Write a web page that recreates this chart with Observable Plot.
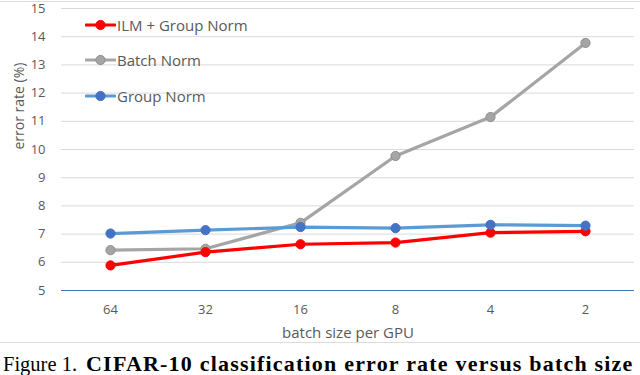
<!DOCTYPE html>
<html>
<head>
<meta charset="utf-8">
<script src="https://cdn.jsdelivr.net/npm/d3@7"></script>
<script src="https://cdn.jsdelivr.net/npm/@observablehq/plot@0.6"></script>
<style>
  html, body { margin: 0; padding: 0; background: #fff; overflow: hidden; width: 640px; height: 375px; }
  #wrap { position: relative; width: 640px; height: 375px; }
  #chart { position: absolute; left: 0; top: 0; }
  #frameTop { position: absolute; left: 0; top: 1px; width: 640px; height: 0; border-top: 1.5px solid #dcdcdc; }
  #frameBottom { position: absolute; left: 0; top: 342px; width: 640px; height: 0; border-top: 1.5px solid #dcdcdc; }
  #legend { position: absolute; left: 85px; top: 0; font-family: "Open Sans", sans-serif; font-size: 15px; color: #595959; }
  .item { position: absolute; left: 0; height: 20px; white-space: nowrap; display: flex; align-items: center; }
  .item span { margin-left: 1px; }
  #caption { position: absolute; left: 3px; top: 354px; white-space: nowrap; font-family: "Liberation Serif", "Times New Roman", serif; font-size: 20.5px; line-height: 20px; color: #000; }
  #caption b { font-size: 22px; line-height: 20px; letter-spacing: 1.2px; margin-left: 9px; }
</style>
</head>
<body>
<div id="wrap">
  <div id="frameTop"></div>
  <div id="chart"></div>
  <div id="frameBottom"></div>
  <div id="legend"></div>
  <div id="caption"></div>
</div>
<script>
const batchSizes = ["64", "32", "16", "8", "4", "2"];
const ilmGroupNorm = [5.89, 6.36, 6.64, 6.70, 7.05, 7.10];
const batchNorm = [6.43, 6.48, 7.40, 9.77, 11.15, 13.78];
const groupNorm = [7.02, 7.14, 7.25, 7.21, 7.33, 7.30];
const yTicks = [5, 6, 7, 8, 9, 10, 11, 12, 13, 14, 15];
const seriesNames = ["ILM + Group Norm", "Batch Norm", "Group Norm"];
const lineColors = ["#ff0000", "#a5a5a5", "#5b9bd5"];
const dotColors = ["#ff0000", "#a5a5a5", "#4472c4"];
const dotStrokes = ["#ff0000", "#8f8f8f", "#4472c4"];
const xLabel = "batch size per GPU";
const yLabel = "error rate (%)";
const captionLead = "Figure 1.";
const captionBold = "CIFAR-10 classification error rate versus batch size";

const seriesValues = [ilmGroupNorm, batchNorm, groupNorm];
const rows = seriesValues.flatMap((vals, s) =>
  vals.map((v, i) => ({ series: seriesNames[s], batch: batchSizes[i], value: v, s })));
const bySeries = (name) => rows.filter(d => d.series === name);

// draw order: gray first, then red, then blue on top
const drawOrder = [1, 0, 2];
const seriesMarks = drawOrder.flatMap(s => [
  Plot.line(bySeries(seriesNames[s]), { x: "batch", y: "value", stroke: lineColors[s], strokeWidth: 3.2, strokeLinejoin: "round", strokeLinecap: "round" }),
  Plot.dot(bySeries(seriesNames[s]), { x: "batch", y: "value", r: 4.6, fill: dotColors[s], stroke: dotStrokes[s], strokeWidth: 1 })
]);

const chart = Plot.plot({
  width: 640,
  height: 345,
  marginTop: 8,
  marginBottom: 55,
  marginLeft: 61,
  marginRight: 6,
  style: { fontFamily: "'Open Sans', sans-serif", fontSize: "13px", color: "#595959", background: "transparent" },
  x: { type: "point", domain: batchSizes, padding: 0.5 },
  y: { domain: [5, 15] },
  marks: [
    Plot.ruleY(yTicks.slice(1), { stroke: "#d9d9d9", strokeWidth: 1 }),
    Plot.ruleY([yTicks[0]], { stroke: "#4472c4", strokeWidth: 1 }),
    Plot.axisX({ tickSize: 0, tickPadding: 14, label: null, fontSize: 13 }),
    Plot.axisY({ ticks: yTicks, tickSize: 0, tickPadding: 16, label: null, fontSize: 13 }),
    Plot.text([xLabel], { text: d => d, frameAnchor: "bottom", dy: 43, lineAnchor: "middle", fontSize: 15, fill: "#595959" }),
    Plot.text([yLabel], { text: d => d, frameAnchor: "left", dx: -42, rotate: -90, fontSize: 14, fill: "#595959" }),
    ...seriesMarks
  ]
});
document.getElementById("chart").appendChild(chart);

// legend
const legendTops = [25, 60, 96];
const legend = document.getElementById("legend");
seriesNames.forEach((name, s) => {
  const item = document.createElement("div");
  item.className = "item";
  item.style.top = (legendTops[s] - 10) + "px";
  item.innerHTML = `<svg width="31" height="20"><line x1="1" x2="30" y1="10" y2="10" stroke="${lineColors[s]}" stroke-width="3.2" stroke-linecap="round"/><circle cx="15.5" cy="10" r="4.6" fill="${dotColors[s]}" stroke="${dotStrokes[s]}"/></svg><span></span>`;
  item.querySelector("span").textContent = name;
  legend.appendChild(item);
});

const cap = document.getElementById("caption");
cap.appendChild(document.createTextNode(captionLead));
const b = document.createElement("b");
b.textContent = captionBold;
cap.appendChild(b);
</script>
</body>
</html>
